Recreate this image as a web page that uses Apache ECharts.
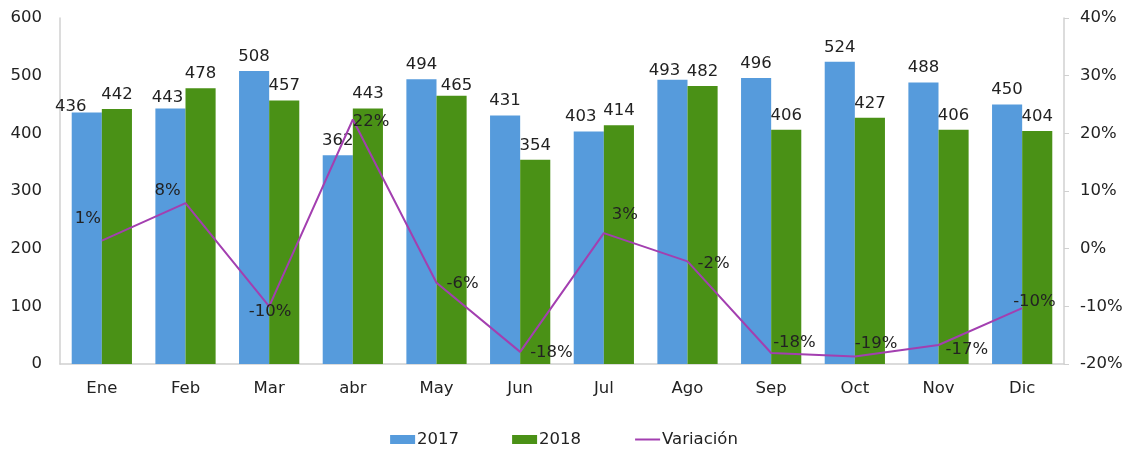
<!DOCTYPE html>
<html>
<head>
<meta charset="utf-8">
<script src="https://cdn.jsdelivr.net/npm/echarts@6/dist/echarts.min.js"></script>
<style>
  html, body { margin: 0; padding: 0; background: #fff; }
  #chart { width: 1128px; height: 451px; }
</style>
</head>
<body>
<div id="chart"></div>
<script>
// data
const months = ['Ene', 'Feb', 'Mar', 'abr', 'May', 'Jun', 'Jul', 'Ago', 'Sep', 'Oct', 'Nov', 'Dic'];
const v2017 = [436, 443, 508, 362, 494, 431, 403, 493, 496, 524, 488, 450];
const v2018 = [442, 478, 457, 443, 465, 354, 414, 482, 406, 427, 406, 404];
const variacion = [1.4, 7.9, -10.0, 22.4, -5.9, -17.9, 2.7, -2.2, -18.1, -18.7, -16.7, -10.3];

// label placement tweaks (Excel nudged a few labels)
const lbl2017Offset = [[-16, 9], [-3, 4], [0, 0], [0, 0], [0, 0], [0, 0], [-8, 0], [-8, 6], [0, 0], [0, 0], [0, 0], [0, 0]];
const lbl2018Offset = [[0, 0], [0, 0], [0, 0], [0, 0], [5, 4], [0, 0], [0, 0], [0, 0], [0, 0], [0, 0], [0, 0], [0, 0]];
const varLabelPos = [
  { position: 'top', offset: [-14, -8] },
  { position: 'top', offset: [-18, 1] },
  { position: 'bottom', offset: [1, -8] },
  { position: 'right', offset: [-5, 2] },
  { position: 'right', offset: [5, 1] },
  { position: 'right', offset: [5, 1] },
  { position: 'right', offset: [3, -18] },
  { position: 'right', offset: [5, 2] },
  { position: 'right', offset: [-3, -10] },
  { position: 'right', offset: [-5, -13] },
  { position: 'right', offset: [2, 5] },
  { position: 'right', offset: [-14, -6] }
];

const txt = '#222';
const font = 'DejaVu Sans, Verdana, sans-serif';
const fs = 16.5;

const chart = echarts.init(document.getElementById('chart'), null, { renderer: 'canvas' });

const option = {
  animation: false,
  textStyle: { fontFamily: font, color: txt },
  grid: { left: 60, right: 64, top: 18, bottom: 87 },
  legend: {
    top: 426,
    left: 'center',
    itemGap: 53,
    itemWidth: 25,
    itemHeight: 9,
    textStyle: { fontSize: fs, color: txt, fontFamily: font, padding: [0, 0, 0, -3] },
    data: [
      { name: '2017', icon: 'rect' },
      { name: '2018', icon: 'rect' },
      { name: 'Variación', itemStyle: { opacity: 0 } }
    ]
  },
  xAxis: {
    type: 'category',
    data: months,
    axisLine: { lineStyle: { color: '#d0d0d0', width: 1.5 } },
    axisTick: { show: false },
    axisLabel: { fontSize: fs, color: txt, margin: 16 }
  },
  yAxis: [
    {
      type: 'value',
      min: 0, max: 600, interval: 100,
      axisLine: { show: true, lineStyle: { color: '#d0d0d0', width: 1.5 } },
      axisTick: { show: false },
      splitLine: { show: false },
      axisLabel: { fontSize: fs, color: txt, margin: 18 }
    },
    {
      type: 'value',
      min: -20, max: 40, interval: 10,
      position: 'right',
      axisLine: { show: true, lineStyle: { color: '#d0d0d0', width: 1.5 } },
      axisTick: { show: true, length: 5, lineStyle: { color: '#d0d0d0' } },
      splitLine: { show: false },
      axisLabel: { fontSize: fs, color: txt, margin: 16, formatter: v => v + '%' }
    }
  ],
  series: [
    {
      name: '2017',
      type: 'bar',
      data: v2017.map((v, i) => ({ value: v, label: { offset: lbl2017Offset[i] } })),
      barGap: '0%',
      barCategoryGap: '28%',
      itemStyle: { color: '#569bdc' },
      label: { show: true, position: 'top', fontSize: fs, color: txt, distance: 6 }
    },
    {
      name: '2018',
      type: 'bar',
      data: v2018.map((v, i) => ({ value: v, label: { offset: lbl2018Offset[i] } })),
      itemStyle: { color: '#4a9116' },
      label: { show: true, position: 'top', fontSize: fs, color: txt, distance: 6 }
    },
    {
      name: 'Variación',
      type: 'line',
      yAxisIndex: 1,
      data: variacion.map((v, i) => ({ value: v, label: varLabelPos[i] })),
      symbol: 'circle',
      symbolSize: 0,
      showSymbol: true,
      lineStyle: { color: '#a33fb0', width: 2 },
      itemStyle: { color: '#a33fb0' },
      label: {
        show: true, fontSize: fs, color: txt,
        formatter: p => Math.round(p.value) + '%'
      },
      z: 5
    }
  ]
};

chart.setOption(option);
</script>
</body>
</html>
